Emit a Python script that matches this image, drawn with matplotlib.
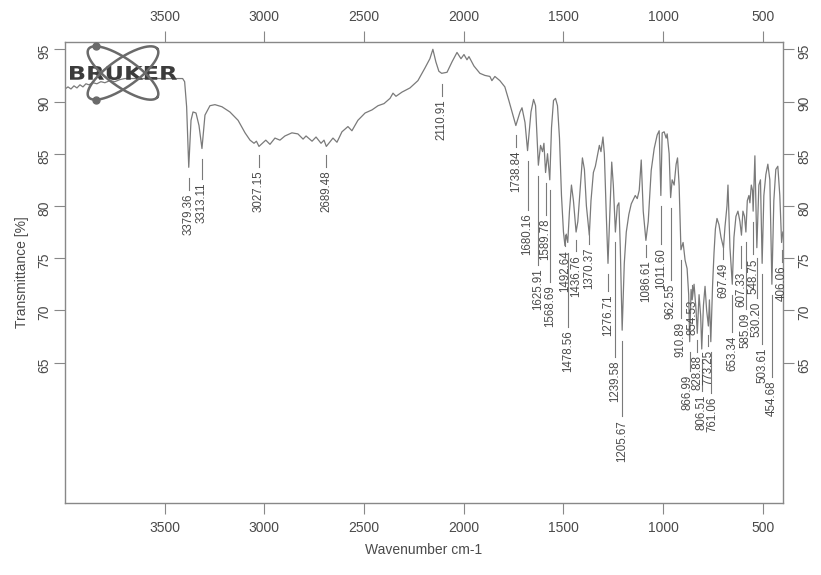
import numpy as np
import matplotlib
matplotlib.use("Agg")
import matplotlib.pyplot as plt
from matplotlib.textpath import TextPath
from matplotlib.patches import PathPatch
from matplotlib.font_manager import FontProperties
from matplotlib.transforms import Affine2D

plt.rcParams['font.family'] = ['Liberation Sans', 'DejaVu Sans']

# IR spectrum (wavenumber cm-1, transmittance %)
wavenumber = np.array([
    4000, 3985, 3970, 3955, 3940, 3925, 3910, 3895, 3880, 3860, 3840, 3820, 3800,
    3775, 3750, 3725, 3700, 3650, 3600, 3550, 3500, 3450, 3410, 3400, 3390,
    3379.36, 3368, 3358, 3343, 3328, 3313.11, 3298, 3273, 3248, 3213, 3173, 3132,
    3097, 3072, 3052, 3040, 3027.15, 2993, 2972, 2947, 2922, 2897, 2862, 2832,
    2806, 2791, 2761, 2741, 2716, 2701, 2689.48, 2656, 2636, 2611, 2581, 2561,
    2531, 2495, 2460, 2430, 2400, 2370, 2355, 2340, 2310, 2270, 2230, 2195, 2170,
    2155, 2140, 2125, 2110.91, 2084, 2059, 2034, 2014, 1999, 1984, 1974, 1949,
    1919, 1894, 1869, 1859, 1844, 1819, 1794, 1774, 1758, 1738.84, 1718, 1708,
    1693, 1680.16, 1663, 1650, 1640, 1625.91, 1615, 1605, 1598, 1589.78, 1580,
    1568.69, 1560, 1550, 1540, 1530, 1520, 1510, 1500, 1492.64, 1486, 1478.56,
    1470, 1460, 1450, 1436.76, 1428, 1415, 1405, 1395, 1385, 1370.37, 1362, 1350,
    1340, 1330, 1320, 1312, 1302, 1295, 1285, 1276.71, 1268, 1258, 1250, 1239.58,
    1230, 1222, 1215, 1205.67, 1195, 1185, 1172, 1160, 1150, 1140, 1130, 1120,
    1110, 1100, 1086.61, 1075, 1060, 1045, 1030, 1020, 1011.60, 1005, 995, 985,
    980, 970, 962.55, 955, 945, 935, 928, 920, 910.89, 900, 890, 880, 872, 866.99,
    860, 854.53, 845, 835, 828.88, 820, 812, 806.51, 798, 790, 782, 773.25, 768,
    761.06, 752, 745, 738, 730, 720, 710, 697.49, 690, 680, 675, 665, 653.34, 645,
    635, 625, 615, 607.33, 600, 592, 585.09, 578, 570, 565, 558, 552, 548.75, 540,
    530.20, 520, 512, 503.61, 495, 485, 475, 465, 454.68, 445, 435, 425, 415,
    406.06, 400])
transmittance = np.array([
    91.2, 91.4, 91.2, 91.5, 91.3, 91.6, 91.4, 91.7, 91.6, 91.8, 91.7, 91.9, 91.8,
    92.0, 91.9, 92.1, 92.2, 92.2, 92.2, 92.2, 92.2, 92.2, 92.2, 91.9, 89.5,
    83.7, 88.2, 89.0, 88.9, 87.7, 85.5, 88.7, 89.6, 89.7, 89.5, 89.0, 88.2,
    87.0, 86.3, 86.0, 86.2, 85.7, 86.3, 85.9, 86.5, 86.3, 86.7, 87.0, 86.9,
    86.4, 86.7, 86.2, 86.6, 86.0, 86.3, 85.7, 86.5, 86.1, 87.1, 87.6, 87.2,
    88.2, 88.9, 89.2, 89.6, 89.8, 90.3, 90.8, 90.5, 90.9, 91.3, 92.0, 93.2, 94.1,
    95.0, 93.8, 92.9, 92.7, 92.8, 93.8, 94.7, 94.1, 94.5, 94.0, 94.3, 93.4,
    92.7, 92.5, 92.4, 92.0, 92.4, 92.0, 91.4, 90.1, 89.0, 87.7, 89.0, 89.4,
    88.0, 85.3, 89.0, 90.2, 89.6, 83.9, 85.8, 85.2, 86.0, 83.2, 85.0,
    82.5, 87.5, 90.1, 90.3, 89.6, 86.5, 81.0, 77.5, 76.2, 77.3, 76.5,
    79.5, 82.0, 80.5, 77.5, 78.5, 82.0, 84.6, 83.5, 80.0, 77.2, 80.5, 83.2,
    83.8, 84.8, 85.8, 85.2, 86.6, 85.0, 79.0, 74.5, 79.0, 84.2, 82.0, 77.5,
    80.0, 80.3, 76.0, 68.1, 74.5, 77.5, 79.2, 80.2, 80.6, 81.0, 80.7, 81.5,
    84.4, 79.5, 76.7, 78.5, 83.4, 85.5, 86.8, 87.2, 81.0, 87.0, 87.1, 86.5,
    86.9, 85.0, 80.8, 82.5, 82.0, 84.0, 84.6, 82.0, 75.8, 76.5, 74.8, 74.0, 71.5, 67.0,
    72.0, 71.0, 72.5, 70.0, 67.8, 71.5, 69.5, 66.3, 70.5, 72.3, 70.0, 68.5, 71.0,
    67.0, 72.5, 75.5, 77.8, 78.8, 78.2, 77.0, 76.0, 78.0, 80.0, 82.0, 76.0, 72.5, 77.0,
    79.0, 79.5, 78.5, 77.2, 79.5, 79.0, 77.5, 80.5, 81.0, 80.3, 82.0, 81.5, 79.5, 84.8,
    76.0, 82.0, 82.5, 74.5, 81.0, 83.0, 84.0, 82.5, 72.5, 80.5, 83.5, 83.8, 81.0,
    76.5, 77.5])

# labelled peaks
peak_wn = [3379.36, 3313.11, 3027.15, 2689.48, 2110.91, 1738.84, 1680.16, 1625.91,
           1589.78, 1568.69, 1492.64, 1478.56, 1436.76, 1370.37, 1276.71, 1239.58,
           1205.67, 1086.61, 1011.60, 962.55, 910.89, 866.99, 854.53, 828.88, 806.51,
           773.25, 761.06, 697.49, 653.34, 607.33, 585.09, 548.75, 530.20, 503.61,
           454.68, 406.06]
# where the top of each rotated label sits (transmittance units)
label_top = [81.2, 82.2, 83.4, 83.4, 90.2, 85.3, 79.3, 74.0,
             78.8, 72.4, 75.8, 68.1, 75.3, 76.0, 71.5, 65.2,
             59.5, 74.8, 76.0, 72.6, 68.9, 63.8, 71.0, 65.7, 61.9,
             66.2, 61.7, 74.6, 67.6, 73.7, 69.8, 75.0, 70.8, 66.4,
             63.3, 74.3]
# small sideways nudges (cm-1) for crowded labels
label_nudge = {866.99: 12, 761.06: -8}

x_ticks = [3500, 3000, 2500, 2000, 1500, 1000, 500]
y_ticks = [65, 70, 75, 80, 85, 90, 95]

line_col = '#7a7a7a'
text_col = '#4a4a4a'

fig = plt.figure(figsize=(8.21, 5.75), dpi=100)
ax = fig.add_axes([65/821, 72/575, 718/821, 461/575])
ax.plot(wavenumber, transmittance, color=line_col, lw=0.9)
ax.set_xlim(4000, 399)
ax.set_ylim(51.55, 95.7)
ax.set_xticks(x_ticks)
ax.set_yticks(y_ticks)
ax.tick_params(direction='out', length=8, width=0.8, color='#888888',
               labelcolor=text_col, labelsize=10,
               top=True, right=True, labeltop=True, labelright=True)
ax.tick_params(axis='y', labelrotation=90, pad=2)
ax.tick_params(axis='x', pad=5)
for s in ax.spines.values():
    s.set_color('#888888')
    s.set_linewidth(1)
ax.set_xlabel('Wavenumber cm-1', fontsize=10, color=text_col, labelpad=6)
ax.set_ylabel('Transmittance [%]', fontsize=10, color=text_col, labelpad=6)

# peak labels with their marker lines
peak_t = np.interp(peak_wn, wavenumber[::-1], transmittance[::-1])
for w, top, pt in zip(peak_wn, label_top, peak_t):
    ax.text(w + label_nudge.get(w, 0), top, f"{w:.2f}", rotation=90,
            ha='center', va='top', fontsize=8.3, color=text_col)
    y0 = top + 0.35
    y1 = max(pt - 1.0, y0 + 1.1)
    ax.plot([w, w], [y0, y1], color=line_col, lw=0.8)

# Bruker logo (pixel coordinates, y down)
lax = fig.add_axes([68/821, 1 - 105/575, 112/821, 65/575])
lax.set_xlim(68, 180)
lax.set_ylim(105, 40)
lax.axis('off')
t = np.linspace(0, 2*np.pi, 300)
a, b = 42, 14
for k, sgn in enumerate((1, -1)):
    phi = sgn*np.radians(35)
    ex, ey = a*np.cos(t), b*np.sin(t)
    xr = 123 + ex*np.cos(phi) - ey*np.sin(phi)
    yr = 73 + ex*np.sin(phi) + ey*np.cos(phi)
    lax.plot(xr, yr, color='#6a6a6a', lw=1.8)
    i = np.argmin(yr) if k == 0 else np.argmax(yr)
    lax.plot(xr[i], yr[i], 'o', color='#6a6a6a', ms=5)

fp = FontProperties(family='DejaVu Sans', weight='bold')
tp = TextPath((0, 0), 'BRUKER', size=10, prop=fp)
bb = tp.get_extents()
tr = Affine2D().translate(-bb.x0, -bb.y0).scale(107/bb.width, -14/bb.height).translate(70, 80)
lax.add_patch(PathPatch(tr.transform_path(tp), fc='#3c3c3c', ec='none'))

fig.savefig('out.png', dpi=100)
